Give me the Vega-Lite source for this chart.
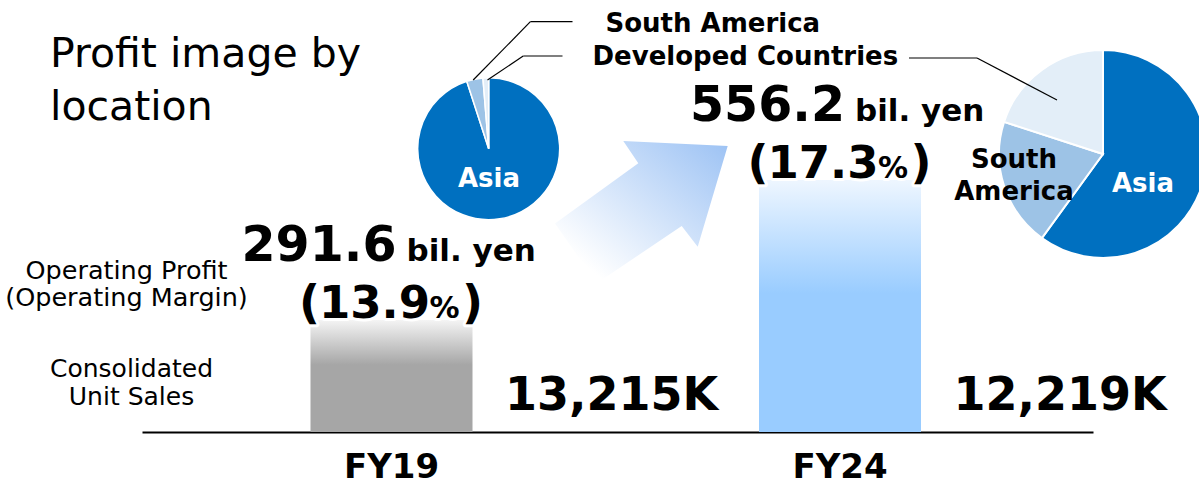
{
  "$schema": "https://vega.github.io/schema/vega-lite/v6.json",
  "width": 1199,
  "height": 432,
  "autosize": "none",
  "padding": {"left": 0, "top": 0, "right": 0, "bottom": 53},
  "background": "white",
  "config": {"view": {"stroke": null}, "font": "DejaVu Sans", "axisY": {"disable": true}},
  "datasets": {
    "results": [
      {"year": "FY19", "profit": 291.6, "margin": 13.9, "units_k": 13215},
      {"year": "FY24", "profit": 556.2, "margin": 17.3, "units_k": 12219}
    ],
    "mix": [
      {"year": "FY19", "region": "Asia", "share": 95.0, "ord": 1},
      {"year": "FY19", "region": "South America", "share": 3.7, "ord": 2},
      {"year": "FY19", "region": "Developed Countries", "share": 1.3, "ord": 3},
      {"year": "FY24", "region": "Asia", "share": 60, "ord": 1},
      {"year": "FY24", "region": "South America", "share": 20, "ord": 2},
      {"year": "FY24", "region": "Developed Countries", "share": 20, "ord": 3}
    ]
  },
  "layer": [
    {
      "data": {"name": "results"},
      "transform": [{"filter": "datum.year === 'FY19'"}],
      "mark": {"type": "bar", "width": 162, "color": {"gradient": "linear", "x1": 0, "y1": 0, "x2": 0, "y2": 1, "stops": [{"offset": 0, "color": "#f4f4f4"}, {"offset": 0.4, "color": "#a6a6a6"}, {"offset": 1, "color": "#a6a6a6"}]}},
      "encoding": {
        "x": {"field": "year", "type": "nominal", "scale": {"domain": ["FY19", "FY24"], "range": [142, 1093], "paddingInner": 0, "paddingOuter": 0.0602, "align": 0.4676, "round": false},
          "axis": {"title": null, "domainColor": "#000000", "domainWidth": 2, "ticks": false, "tickSize": 0, "labelAngle": 0, "labelFont": "DejaVu Sans", "labelFontWeight": "bold", "labelFontSize": 34, "labelColor": "#000000", "labelPadding": 18, "grid": false}},
        "y": {"field": "profit", "type": "quantitative", "scale": {"domain": [80, 896.5], "zero": false, "nice": false}, "axis": null},
        "y2": {"datum": 80}
      }
    },
    {
      "data": {"name": "results"},
      "transform": [{"filter": "datum.year === 'FY24'"}],
      "mark": {"type": "bar", "width": 162, "color": {"gradient": "linear", "x1": 0, "y1": 0, "x2": 0, "y2": 1, "stops": [{"offset": 0, "color": "#eef6ff"}, {"offset": 0.45, "color": "#99ccff"}, {"offset": 1, "color": "#99ccff"}]}},
      "encoding": {
        "x": {"field": "year", "type": "nominal"},
        "y": {"field": "profit", "type": "quantitative", "axis": null},
        "y2": {"datum": 80}
      }
    },
    {
      "data": {"values": [{}]},
      "mark": {"type": "point", "shape": "M0.877,-0.66L-0.167,-0.71L-0.017,-0.487L-0.85,0.115L-0.433,0.713L0.417,0.14L0.577,0.347Z", "size": 40000, "filled": true, "opacity": 1, "strokeWidth": 0, "fill": {"gradient": "linear", "x1": 0, "y1": 1, "x2": 1, "y2": 0, "stops": [{"offset": 0, "color": "#ffffff"}, {"offset": 0.15, "color": "#ffffff"}, {"offset": 1, "color": "#9cc2f4"}]}, "xOffset": 248.5, "yOffset": -220},
      "encoding": {"x": {"datum": "FY19", "bandPosition": 0.5}, "y": {"datum": 80}}
    },
    {
      "data": {"name": "results"},
      "mark": {"type": "text", "fontSize": 49, "fontWeight": "bold", "align": "center", "baseline": "alphabetic", "dx": -72.5, "dy": -59, "color": "#000000"},
      "encoding": {"x": {"field": "year", "type": "nominal"}, "y": {"field": "profit", "type": "quantitative"}, "text": {"field": "profit", "format": ".1f"}}
    },
    {
      "data": {"name": "results"},
      "mark": {"type": "text", "text": "bil. yen", "fontSize": 31, "fontWeight": "bold", "align": "left", "baseline": "alphabetic", "dx": 15, "dy": -59, "color": "#000000"},
      "encoding": {"x": {"field": "year", "type": "nominal"}, "y": {"field": "profit", "type": "quantitative"}}
    },
    {
      "data": {"name": "results"},
      "mark": {"type": "text", "text": "(", "fontSize": 46, "fontWeight": "bold", "align": "center", "baseline": "alphabetic", "dx": -82, "dy": -2, "fill": "#ffffff", "stroke": "#ffffff", "strokeWidth": 6, "strokeJoin": "round"},
      "encoding": {"x": {"field": "year", "type": "nominal"}, "y": {"field": "profit", "type": "quantitative"}}
    },
    {
      "data": {"name": "results"},
      "mark": {"type": "text", "fontSize": 45, "fontWeight": "bold", "align": "center", "baseline": "alphabetic", "dx": -17, "dy": -2, "fill": "#ffffff", "stroke": "#ffffff", "strokeWidth": 6, "strokeJoin": "round"},
      "encoding": {"x": {"field": "year", "type": "nominal"}, "y": {"field": "profit", "type": "quantitative"}, "text": {"field": "margin", "format": ".1f"}}
    },
    {
      "data": {"name": "results"},
      "mark": {"type": "text", "text": "%", "fontSize": 30, "fontWeight": "bold", "align": "center", "baseline": "alphabetic", "dx": 53, "dy": -2, "fill": "#ffffff", "stroke": "#ffffff", "strokeWidth": 6, "strokeJoin": "round"},
      "encoding": {"x": {"field": "year", "type": "nominal"}, "y": {"field": "profit", "type": "quantitative"}}
    },
    {
      "data": {"name": "results"},
      "mark": {"type": "text", "text": ")", "fontSize": 46, "fontWeight": "bold", "align": "center", "baseline": "alphabetic", "dx": 81, "dy": -2, "fill": "#ffffff", "stroke": "#ffffff", "strokeWidth": 6, "strokeJoin": "round"},
      "encoding": {"x": {"field": "year", "type": "nominal"}, "y": {"field": "profit", "type": "quantitative"}}
    },
    {
      "data": {"name": "results"},
      "mark": {"type": "text", "text": "(", "fontSize": 46, "fontWeight": "bold", "align": "center", "baseline": "alphabetic", "dx": -82, "dy": -2, "color": "#000000"},
      "encoding": {"x": {"field": "year", "type": "nominal"}, "y": {"field": "profit", "type": "quantitative"}}
    },
    {
      "data": {"name": "results"},
      "mark": {"type": "text", "fontSize": 45, "fontWeight": "bold", "align": "center", "baseline": "alphabetic", "dx": -17, "dy": -2, "color": "#000000"},
      "encoding": {"x": {"field": "year", "type": "nominal"}, "y": {"field": "profit", "type": "quantitative"}, "text": {"field": "margin", "format": ".1f"}}
    },
    {
      "data": {"name": "results"},
      "mark": {"type": "text", "text": "%", "fontSize": 30, "fontWeight": "bold", "align": "center", "baseline": "alphabetic", "dx": 53, "dy": -2, "color": "#000000"},
      "encoding": {"x": {"field": "year", "type": "nominal"}, "y": {"field": "profit", "type": "quantitative"}}
    },
    {
      "data": {"name": "results"},
      "mark": {"type": "text", "text": ")", "fontSize": 46, "fontWeight": "bold", "align": "center", "baseline": "alphabetic", "dx": 81, "dy": -2, "color": "#000000"},
      "encoding": {"x": {"field": "year", "type": "nominal"}, "y": {"field": "profit", "type": "quantitative"}}
    },
    {
      "data": {"name": "results"},
      "transform": [{"calculate": "format(datum.units_k, ',') + 'K'", "as": "units_label"}],
      "mark": {"type": "text", "fontSize": 46, "fontWeight": "bold", "align": "center", "baseline": "alphabetic", "dx": 220, "dy": -22, "color": "#000000"},
      "encoding": {"x": {"field": "year", "type": "nominal"}, "y": {"datum": 80}, "text": {"field": "units_label"}}
    },
    {
      "data": {"name": "mix"},
      "transform": [{"filter": "datum.year === 'FY19'"}],
      "mark": {"type": "arc", "radius": 71, "stroke": "#ffffff", "strokeWidth": 1.5, "xOffset": 97.2, "yOffset": -283.3},
      "encoding": {
        "x": {"datum": "FY19", "bandPosition": 0.5}, "y": {"datum": 80},
        "theta": {"field": "share", "type": "quantitative"},
        "color": {"field": "region", "type": "nominal", "scale": {"domain": ["Asia", "South America", "Developed Countries"], "range": ["#0070c0", "#9dc3e6", "#e3eef8"]}, "legend": null},
        "order": {"field": "ord", "type": "quantitative"}
      }
    },
    {
      "data": {"name": "mix"},
      "transform": [{"filter": "datum.year === 'FY24'"}],
      "mark": {"type": "arc", "radius": 104, "stroke": "#ffffff", "strokeWidth": 2, "xOffset": 263, "yOffset": -278},
      "encoding": {
        "x": {"datum": "FY24", "bandPosition": 0.5}, "y": {"datum": 80},
        "theta": {"field": "share", "type": "quantitative"},
        "color": {"field": "region", "type": "nominal", "legend": null},
        "order": {"field": "ord", "type": "quantitative"}
      }
    },
    {
      "data": {"name": "mix"},
      "transform": [{"filter": "datum.year === 'FY19' && datum.region === 'Asia'"}],
      "mark": {"type": "text", "fontSize": 26, "fontWeight": "bold", "align": "center", "baseline": "alphabetic", "dx": 97.5, "dy": -245, "color": "#ffffff"},
      "encoding": {"x": {"field": "year", "type": "nominal"}, "y": {"datum": 80}, "text": {"field": "region"}}
    },
    {
      "data": {"name": "mix"},
      "transform": [{"filter": "datum.year === 'FY24' && datum.region === 'Asia'"}],
      "mark": {"type": "text", "fontSize": 26, "fontWeight": "bold", "align": "center", "baseline": "alphabetic", "dx": 303, "dy": -240, "color": "#ffffff"},
      "encoding": {"x": {"field": "year", "type": "nominal"}, "y": {"datum": 80}, "text": {"field": "region"}}
    },
    {
      "data": {"name": "mix"},
      "transform": [{"filter": "datum.year === 'FY24' && datum.region === 'South America'"}],
      "mark": {"type": "text", "fontSize": 26, "fontWeight": "bold", "align": "center", "baseline": "alphabetic", "lineBreak": " ", "lineHeight": 32, "dx": 174, "dy": -264, "color": "#000000"},
      "encoding": {"x": {"field": "year", "type": "nominal"}, "y": {"datum": 80}, "text": {"field": "region"}}
    },
    {
      "data": {"name": "mix"},
      "transform": [{"filter": "datum.year === 'FY19' && datum.region === 'South America'"}],
      "mark": {"type": "text", "fontSize": 26, "fontWeight": "bold", "align": "left", "baseline": "alphabetic", "dx": 214, "dy": -400, "color": "#000000"},
      "encoding": {"x": {"field": "year", "type": "nominal"}, "y": {"datum": 80}, "text": {"field": "region"}}
    },
    {
      "data": {"name": "mix"},
      "transform": [{"filter": "datum.year === 'FY19' && datum.region === 'Developed Countries'"}],
      "mark": {"type": "text", "fontSize": 26, "fontWeight": "bold", "align": "left", "baseline": "alphabetic", "dx": 201, "dy": -367, "color": "#000000"},
      "encoding": {"x": {"field": "year", "type": "nominal"}, "y": {"datum": 80}, "text": {"field": "region"}}
    },
    {
      "data": {"values": [{}]},
      "mark": {"type": "rule", "color": "#000000", "strokeWidth": 1.2, "xOffset": 138.9, "x2Offset": 181, "yOffset": -410.3, "y2Offset": -410.3},
      "encoding": {"x": {"datum": "FY19", "bandPosition": 0.5}, "x2": {"datum": "FY19", "bandPosition": 0.5}, "y": {"datum": 80}, "y2": {"datum": 80}}
    },
    {
      "data": {"values": [{}]},
      "mark": {"type": "rule", "color": "#000000", "strokeWidth": 1.2, "xOffset": 138.9, "x2Offset": 81.7, "yOffset": -410.3, "y2Offset": -352},
      "encoding": {"x": {"datum": "FY19", "bandPosition": 0.5}, "x2": {"datum": "FY19", "bandPosition": 0.5}, "y": {"datum": 80}, "y2": {"datum": 80}}
    },
    {
      "data": {"values": [{}]},
      "mark": {"type": "rule", "color": "#000000", "strokeWidth": 1.2, "xOffset": 131.7, "x2Offset": 171, "yOffset": -376, "y2Offset": -376},
      "encoding": {"x": {"datum": "FY19", "bandPosition": 0.5}, "x2": {"datum": "FY19", "bandPosition": 0.5}, "y": {"datum": 80}, "y2": {"datum": 80}}
    },
    {
      "data": {"values": [{}]},
      "mark": {"type": "rule", "color": "#000000", "strokeWidth": 1.2, "xOffset": 131.7, "x2Offset": 96, "yOffset": -376, "y2Offset": -352},
      "encoding": {"x": {"datum": "FY19", "bandPosition": 0.5}, "x2": {"datum": "FY19", "bandPosition": 0.5}, "y": {"datum": 80}, "y2": {"datum": 80}}
    },
    {
      "data": {"values": [{}]},
      "mark": {"type": "rule", "color": "#000000", "strokeWidth": 1.2, "xOffset": 69, "x2Offset": 137, "yOffset": -374, "y2Offset": -374},
      "encoding": {"x": {"datum": "FY24", "bandPosition": 0.5}, "x2": {"datum": "FY24", "bandPosition": 0.5}, "y": {"datum": 80}, "y2": {"datum": 80}}
    },
    {
      "data": {"values": [{}]},
      "mark": {"type": "rule", "color": "#000000", "strokeWidth": 1.2, "xOffset": 137, "x2Offset": 217, "yOffset": -374, "y2Offset": -332},
      "encoding": {"x": {"datum": "FY24", "bandPosition": 0.5}, "x2": {"datum": "FY24", "bandPosition": 0.5}, "y": {"datum": 80}, "y2": {"datum": 80}}
    },
    {
      "data": {"values": [{}]},
      "mark": {"type": "text", "text": ["Profit image by", "location"], "fontSize": 41, "lineHeight": 53, "align": "left", "baseline": "alphabetic", "dx": -341.5, "dy": -365, "color": "#000000"},
      "encoding": {"x": {"datum": "FY19", "bandPosition": 0.5}, "y": {"datum": 80}}
    },
    {
      "data": {"values": [{}]},
      "mark": {"type": "text", "text": ["Operating Profit", "(Operating Margin)"], "fontSize": 25.5, "lineHeight": 27, "align": "center", "baseline": "alphabetic", "dx": -265, "dy": -153, "color": "#000000"},
      "encoding": {"x": {"datum": "FY19", "bandPosition": 0.5}, "y": {"datum": 80}}
    },
    {
      "data": {"values": [{}]},
      "mark": {"type": "text", "text": ["Consolidated", "Unit Sales"], "fontSize": 25, "lineHeight": 28, "align": "center", "baseline": "alphabetic", "dx": -260, "dy": -55, "color": "#000000"},
      "encoding": {"x": {"datum": "FY19", "bandPosition": 0.5}, "y": {"datum": 80}}
    }
  ]
}
